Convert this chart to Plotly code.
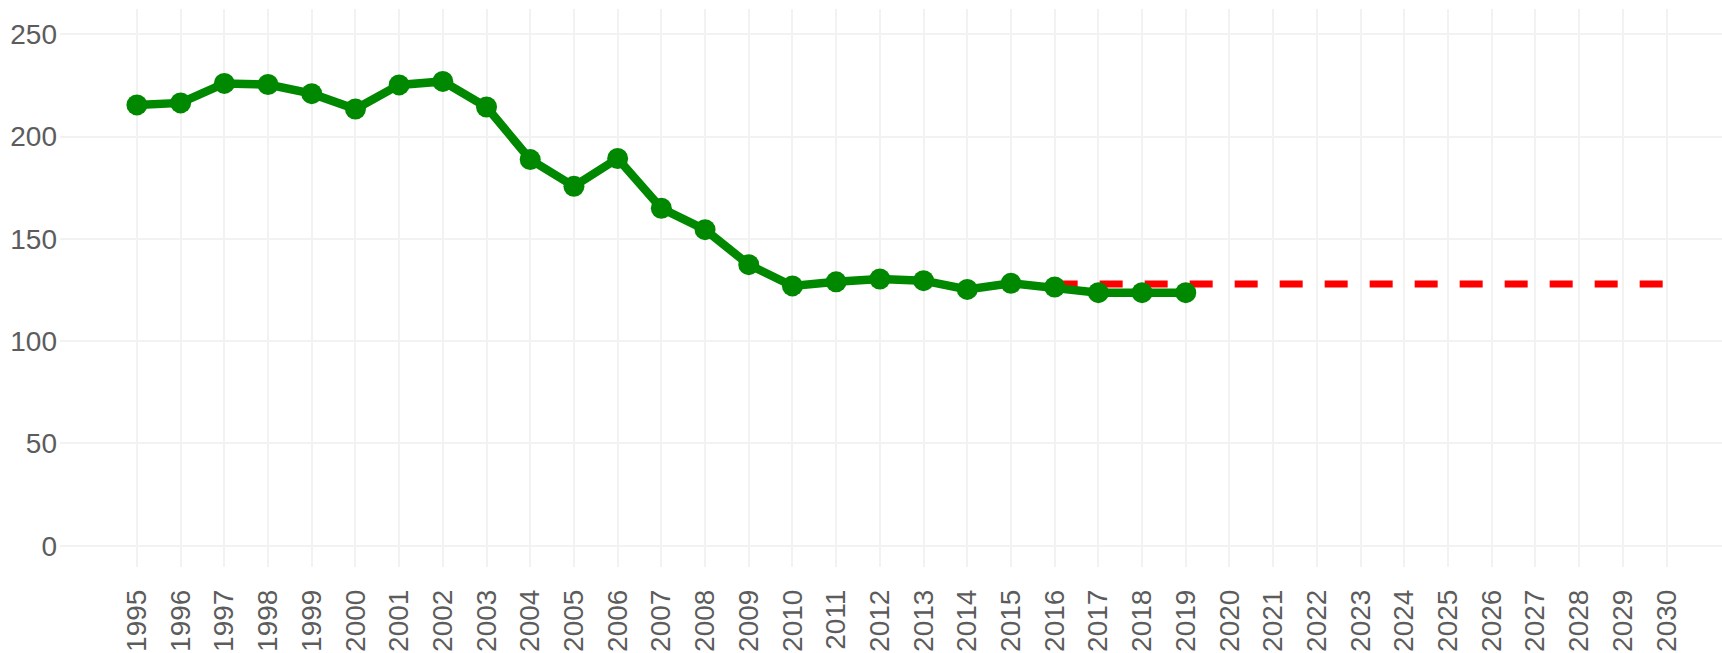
import plotly.graph_objects as go

years = list(range(1995, 2020))
values = [215.5, 216.5, 226.0, 225.5, 221.0, 213.5, 225.3, 227.0, 214.5, 188.8,
          175.7, 189.3, 165.0, 154.5, 137.4, 127.0, 129.0, 130.4, 129.6, 125.3,
          128.3, 126.5, 123.7, 123.7, 123.7]
target_years = [2016, 2030]
target_values = [128.0, 128.0]
tick_years = list(range(1995, 2031))
y_ticks = [0, 50, 100, 150, 200, 250]

FONT = "Liberation Sans, Arial, sans-serif"
GRID = "#f2f2f2"
TXT = "#5c5c5c"

fig = go.Figure()
fig.add_trace(go.Scatter(
    x=target_years, y=target_values, mode="lines",
    line=dict(color="#ff0000", width=7, dash="23px,22px"),
    hoverinfo="skip", showlegend=False))
fig.add_trace(go.Scatter(
    x=years, y=values, mode="lines+markers",
    line=dict(color="#008800", width=8.5),
    marker=dict(color="#008800", size=21),
    showlegend=False))

fig.update_layout(
    width=1722, height=653,
    margin=dict(l=60, r=0, t=9, b=86),
    paper_bgcolor="white", plot_bgcolor="white",
    font=dict(family=FONT, color=TXT, size=28),
    xaxis=dict(range=[1993.24, 2031.27], tickmode="array", tickvals=tick_years,
               ticktext=[str(y) for y in tick_years], tickangle=-90,
               showgrid=True, gridcolor=GRID, gridwidth=1.5, zeroline=False,
               showline=False, ticks="", ticklabelstandoff=16,
               tickfont=dict(size=28, family=FONT, color=TXT)),
    yaxis=dict(range=[-10.4, 262.4], tickmode="array", tickvals=y_ticks,
               showgrid=True, gridcolor=GRID, gridwidth=1.5, zeroline=False,
               showline=False, ticks="", ticklabelstandoff=2,
               tickfont=dict(size=28, family=FONT, color=TXT)),
)
fig.write_html("out.html", config={"displayModeBar": False},
               post_script="document.body.style.margin='0';document.body.style.overflow='hidden';")
